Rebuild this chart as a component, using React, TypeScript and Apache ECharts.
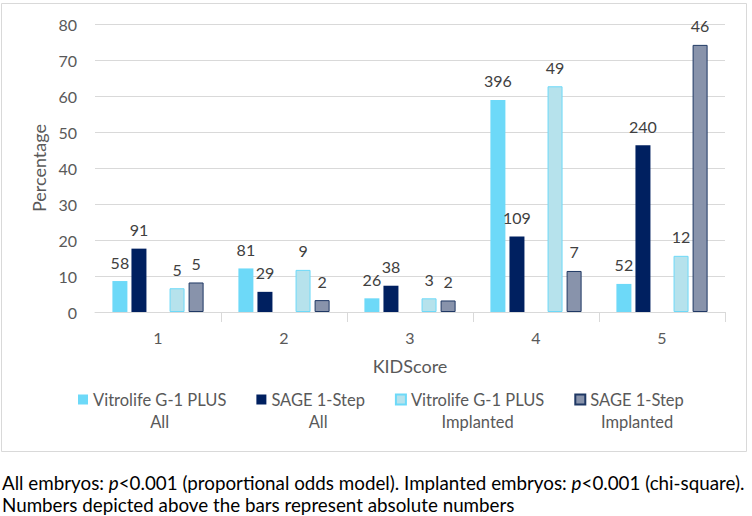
import React, { useEffect, useRef } from "react";
import * as echarts from "echarts";

const categories = ["1", "2", "3", "4", "5"];
const seriesNames = [
  "Vitrolife G-1 PLUS All",
  "SAGE 1-Step All",
  "Vitrolife G-1 PLUS Implanted",
  "SAGE 1-Step Implanted",
];
const legendFirstLines = ["Vitrolife G-1 PLUS", "SAGE 1-Step", "Vitrolife G-1 PLUS", "SAGE 1-Step"];
const legendSecondLines = ["All", "All", "Implanted", "Implanted"];

const vitrolifeAllPct = [8.6, 12.1, 3.8, 58.9, 7.8];
const sageAllPct = [17.6, 5.6, 7.3, 21.0, 46.3];
const vitrolifeImplPct = [6.6, 11.7, 3.8, 62.7, 15.6];
const sageImplPct = [8.2, 3.3, 3.2, 11.4, 74.2];

const vitrolifeAllN = [58, 81, 26, 396, 52];
const sageAllN = [91, 29, 38, 109, 240];
const vitrolifeImplN = [5, 9, 3, 49, 12];
const sageImplN = [5, 2, 2, 7, 46];

const yTicks = { min: 0, max: 80, interval: 10 };

const FONT = "Lato";
const GREY = "#595959";

export default function App() {
  const ref = useRef<HTMLDivElement>(null);

  useEffect(() => {
    if (!ref.current) return;
    const chart = echarts.init(ref.current, undefined, { renderer: "svg" });

    const mkLabel = (counts: number[]) => ({
      show: true,
      position: "top",
      distance: 11,
      fontFamily: FONT,
      fontSize: 16,
      color: "#404040",
      formatter: (p: any) => String(counts[p.dataIndex]),
    });

    const barBase = { type: "bar", barWidth: 15, barGap: "27%" };

    chart.setOption({
      animation: false,
      textStyle: { fontFamily: FONT },
      graphic: [
        {
          type: "rect",
          shape: { x: 1.5, y: 3.5, width: 745, height: 448 },
          style: { fill: "none", stroke: "#D9D9D9", lineWidth: 1 },
          silent: true,
        },
      ],
      title: {
        left: 2,
        top: 471,
        padding: 0,
        text:
          "All embryos: {i|p}<0.001 (proportional odds model). Implanted embryos: {i|p}<0.001 (chi-square).\nNumbers depicted above the bars represent absolute numbers",
        textStyle: {
          fontFamily: FONT,
          fontSize: 18.8,
          fontWeight: "normal",
          color: "#000000",
          lineHeight: 22,
          rich: {
            i: { fontFamily: FONT, fontSize: 18.8, fontStyle: "italic", color: "#000000", lineHeight: 22 },
          },
        },
      },
      grid: { left: 95, right: 27, top: 24, bottom: 204, containLabel: false },
      legend: {
        data: seriesNames,
        left: 78,
        top: 369,
        padding: 0,
        itemGap: 30,
        itemWidth: 10,
        itemHeight: 10,
        icon: "rect",
        formatter: (name: string) => {
          const i = seriesNames.indexOf(name);
          return `{e| }\n{a|${legendFirstLines[i]}}\n{b|${legendSecondLines[i]}}`;
        },
        textStyle: {
          fontFamily: FONT,
          fontSize: 16.5,
          color: GREY,
          rich: {
            e: { fontSize: 16.5, lineHeight: 22, color: GREY, fontFamily: FONT },
            a: { fontSize: 16.5, lineHeight: 22, color: GREY, fontFamily: FONT },
            b: { fontSize: 16.5, lineHeight: 22, color: GREY, fontFamily: FONT, align: "center" },
          },
        },
      },
      xAxis: {
        type: "category",
        data: categories,
        name: "KIDScore",
        nameLocation: "middle",
        nameGap: 45,
        nameTextStyle: { fontFamily: FONT, fontSize: 18, color: GREY },
        axisLine: { lineStyle: { color: "#D9D9D9", width: 1 } },
        axisTick: {
          show: true,
          length: 10,
          lineStyle: { color: "#D9D9D9" },
          interval: (index: number) => index > 0,
        },
        axisLabel: { fontFamily: FONT, fontSize: 16, color: GREY, margin: 17 },
      },
      yAxis: {
        type: "value",
        min: yTicks.min,
        max: yTicks.max,
        interval: yTicks.interval,
        name: "Percentage",
        nameLocation: "middle",
        nameGap: 42,
        nameTextStyle: { fontFamily: FONT, fontSize: 18, color: GREY },
        axisLine: { show: false },
        axisTick: { show: false },
        axisLabel: { fontFamily: FONT, fontSize: 16, color: GREY, margin: 18 },
        splitLine: { lineStyle: { color: "#D9D9D9", width: 1 } },
      },
      series: [
        {
          ...barBase,
          name: seriesNames[0],
          data: vitrolifeAllPct,
          itemStyle: { color: "#6DD9F8" },
          label: mkLabel(vitrolifeAllN),
        },
        {
          ...barBase,
          name: seriesNames[1],
          data: sageAllPct,
          itemStyle: { color: "#002060" },
          label: mkLabel(sageAllN),
        },
        {
          ...barBase,
          name: "",
          data: [],
        },
        {
          ...barBase,
          name: seriesNames[2],
          data: vitrolifeImplPct,
          itemStyle: { color: "#B6E2EC", borderColor: "#6DD9F8", borderWidth: 1 },
          label: mkLabel(vitrolifeImplN),
        },
        {
          ...barBase,
          name: seriesNames[3],
          data: sageImplPct,
          itemStyle: { color: "#8893AB", borderColor: "#1F3864", borderWidth: 1 },
          label: mkLabel(sageImplN),
        },
      ],
    });

    return () => chart.dispose();
  }, []);

  return (
    <div
      ref={ref}
      style={{ position: "absolute", left: 0, top: 0, width: 752, height: 516, background: "#ffffff" }}
    />
  );
}
